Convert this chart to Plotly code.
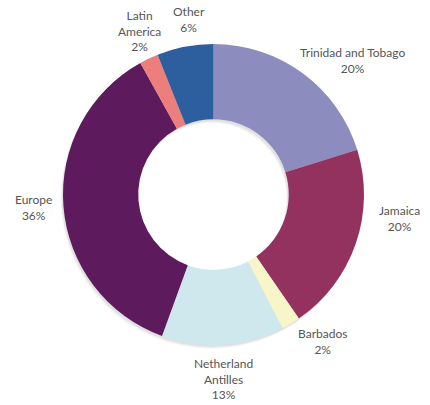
import math
import plotly.graph_objects as go

# Share by destination, clockwise from 12 o'clock
names = ["Trinidad and Tobago", "Jamaica", "Barbados", "Netherland Antilles",
         "Europe", "Latin America", "Other"]
display_names = ["Trinidad and Tobago", "Jamaica", "Barbados", "Netherland<br>Antilles",
                 "Europe", "Latin<br>America", "Other"]
shares = [20, 20, 2, 13, 36, 2, 6]
colors = ["#8d8cbe", "#93325f", "#f8f5c8", "#cfe8ee", "#5d1a5c", "#ec7e7b", "#2d5f9f"]

W, H = 430, 405
CX, CY, R = 213.5, 194.5, 150.5      # donut centre and outer radius, px
HOLE = 0.5
LABEL_R = 160                        # distance of label anchor from centre, px

# hand-tuned label offsets (px, right / down) so labels don't crowd
label_nudge = {
    "Trinidad and Tobago": (-10, -5),
    "Jamaica": (12, -28),
    "Barbados": (0, 10),
    "Latin America": (-5, 6),
    "Other": (6, 0),
}


def domain(dx=0.0, dy=0.0):
    return dict(x=[(CX - R + dx) / W, (CX + R + dx) / W],
                y=[(H - CY - R - dy) / H, (H - CY + R - dy) / H])


fig = go.Figure()

# soft drop shadow: a few faint offset rings behind the donut
for off, alpha in [(4, 0.03), (3, 0.04), (2, 0.05)]:
    fig.add_trace(go.Pie(
        values=[1], hole=HOLE, sort=False, textinfo="none", hoverinfo="skip",
        marker=dict(colors=[f"rgba(0,0,0,{alpha})"], line=dict(width=0)),
        showlegend=False, domain=domain(-off * 0.6, off),
    ))

fig.add_trace(go.Pie(
    labels=names,
    values=shares,
    hole=HOLE,
    sort=False,
    direction="clockwise",
    rotation=0,
    textinfo="none",
    marker=dict(colors=colors, line=dict(width=0)),
    showlegend=False,
    hoverinfo="label+percent",
    domain=domain(),
))

# category labels placed outside the ring at each slice's mid-angle
total = sum(shares)
cum = 0.0
annotations = []
for key, name, v in zip(names, display_names, shares):
    mid = (cum + v / 2) / total * 2 * math.pi
    cum += v
    s, c = math.sin(mid), math.cos(mid)
    ndx, ndy = label_nudge.get(key, (0, 0))
    px = CX + LABEL_R * s + ndx
    py = CY - LABEL_R * c + ndy
    if s > 0.5:
        xa, ya = "left", "middle"
    elif s < -0.5:
        xa, ya = "right", "middle"
    else:
        xa = "center"
        ya = "bottom" if c > 0 else "top"
    annotations.append(dict(
        x=px / W, y=1 - py / H, xref="paper", yref="paper",
        text=f"{name}<br>{v}%", showarrow=False,
        xanchor=xa, yanchor=ya, align="center",
        font=dict(family="Lato", size=12, color="#555555"),
    ))

fig.update_layout(
    width=W,
    height=H,
    margin=dict(l=0, r=0, t=0, b=0),
    paper_bgcolor="white",
    plot_bgcolor="white",
    annotations=annotations,
)

fig.write_html("out.html")
